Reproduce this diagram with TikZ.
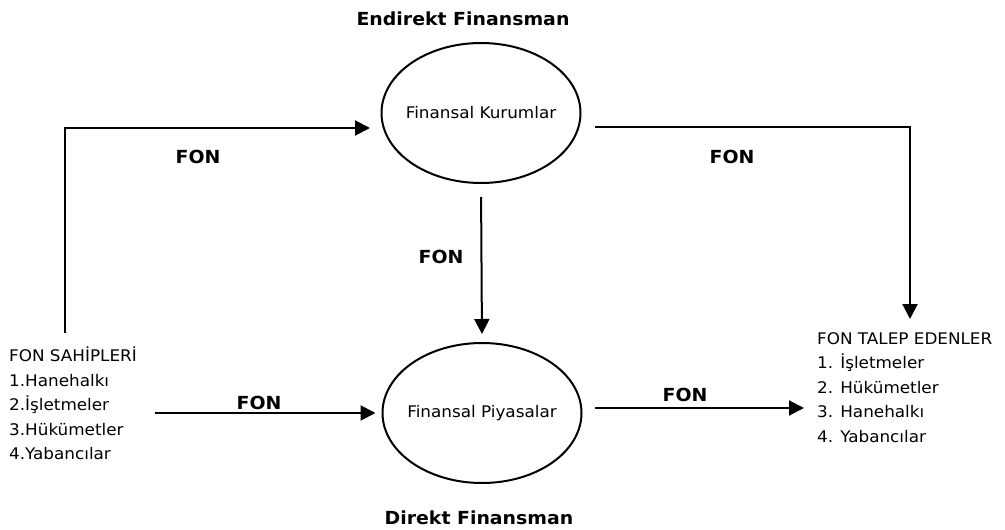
\documentclass[tikz,border=0pt]{standalone}
\usepackage{fontspec}
\setmainfont{DejaVu Sans}[FakeStretch=1.05]
\usetikzlibrary{shapes.geometric,arrows.meta}
\begin{document}
\begin{tikzpicture}[x=1pt,y=-1pt,
  arr/.style={line width=2pt,-{Triangle[length=15pt,width=15pt]}},
  oval/.style={ellipse,draw,line width=2pt,minimum width=199pt,minimum height=140pt,inner sep=0pt},
  lbl/.style={font=\fontsize{18}{20}\selectfont\bfseries,inner sep=0pt},
  txt/.style={font=\fontsize{16}{18}\selectfont,inner sep=0pt},
  block/.style={font=\fontsize{16}{24.5}\selectfont,inner sep=0pt,align=left,anchor=north west}]
\useasboundingbox (0,0) rectangle (1005,530);
% ellipses
\node[oval,label={[txt]center:Finansal Kurumlar}] (fk) at (481,113) {};
\node[oval,label={[txt]center:Finansal Piyasalar}] (fp) at (482,413) {};
% titles
\node[lbl] (t1) at (463,19) {Endirekt Finansman};
\node[lbl] (t2) at (479,518) {Direkt Finansman};
% text blocks
\node[block] (src) at (9,347) {FON SAHİPLERİ\\1.Hanehalkı\\2.İşletmeler\\3.Hükümetler\\4.Yabancılar};
\node[block] (dst) at (817,332) {FON TALEP EDENLER\\1. İşletmeler\\2. Hükümetler\\3. Hanehalkı\\4. Yabancılar};
% coordinates
\coordinate (s1) at (65,333);
\coordinate (e1) at (370,128);
\coordinate (s2) at (595,127);
\coordinate (e2) at (910,319);
\coordinate (s3) at (155,413);
\coordinate (s4) at (595,408);
\coordinate (e4) at (804,408);
% connectors
\draw[arr] (s1) |- (e1);
\draw[arr] (s2) -| (e2);
\draw[arr,shorten <=13pt,shorten >=8pt] (fk.south) -- (fp.north);
\draw[arr,shorten >=6pt] (s3) -- (fp.west);
\draw[arr] (s4) -- (e4);
% FON labels
\node[lbl] (f1) at (198,157) {FON};
\node[lbl] (f2) at (732,157) {FON};
\node[lbl] (f3) at (441,257) {FON};
\node[lbl] (f4) at (259,403) {FON};
\node[lbl] (f5) at (685,395) {FON};
\end{tikzpicture}
\end{document}
